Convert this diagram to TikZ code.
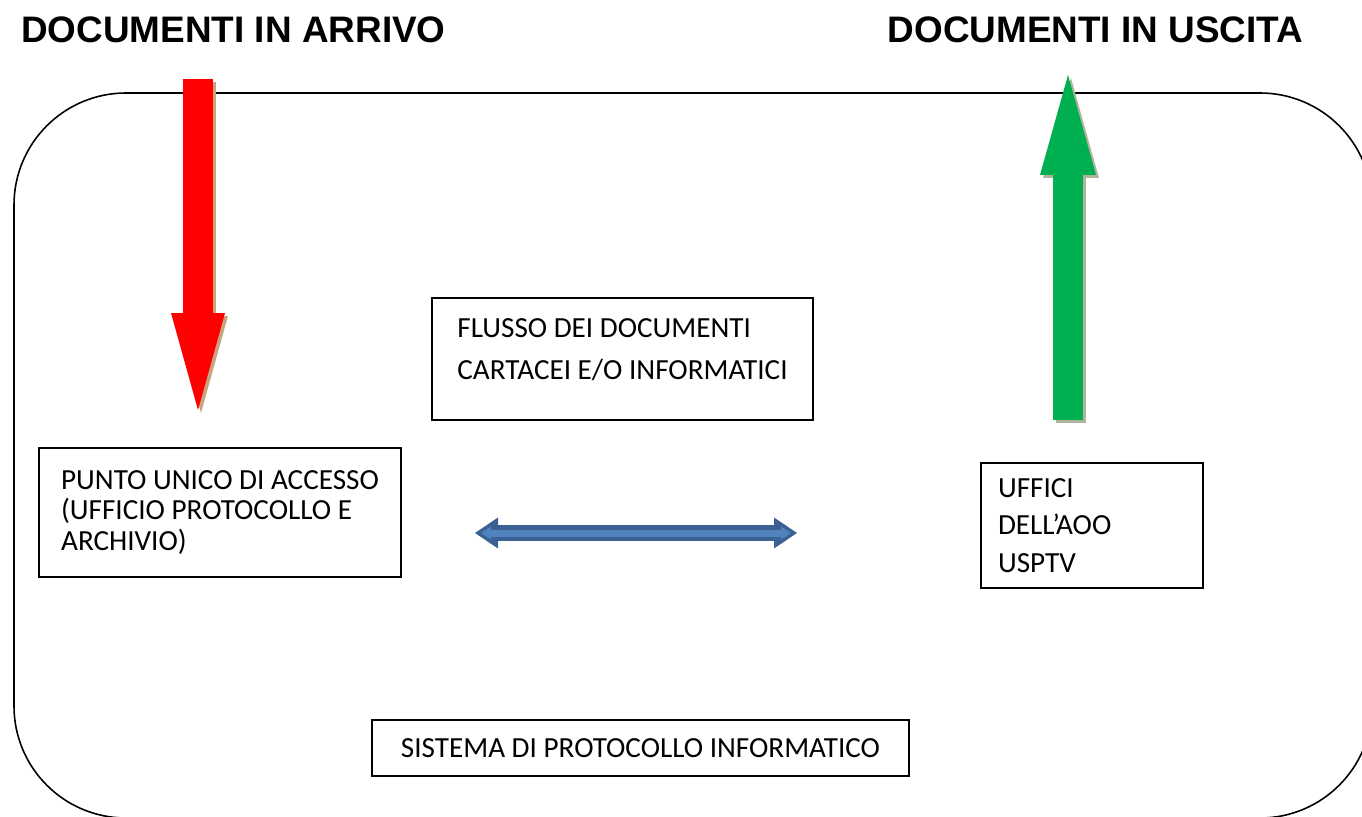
\documentclass[tikz,border=0pt]{standalone}
\usepackage{fontspec}
\setmainfont{Carlito}
\newfontfamily\headfont{Liberation Sans}
\usetikzlibrary{arrows.meta}
\definecolor{inred}{HTML}{FF0000}
\definecolor{outgreen}{HTML}{00B050}
\definecolor{flowblue}{HTML}{5082BE}
\definecolor{flowborder}{HTML}{3A6094}
\definecolor{redshadow}{HTML}{C9A37E}
\definecolor{greenshadow}{HTML}{B2B39B}
\tikzset{frame/.style = {
  draw=black,
  line width=0.9pt,
  rounded corners=2.24cm
  }}
\tikzset{box/.style = {
  % Rectangle:
  rectangle,
  draw=black, line width=0.8pt,
  inner xsep=0pt, inner ysep=0pt,
  % Text:
  align=left,
  font=\fontsize{16.6}{17.6}\selectfont
  }}
\tikzset{heading/.style = {
  inner sep=0pt,
  font=\headfont\bfseries\fontsize{21}{25}\selectfont
  }}
\tikzset{bigarrow/.style = {
  draw=#1,
  line width=0.6cm,
  line cap=butt
  }}
\tikzset{flowarrow/.style = {
  draw=#1,
  line cap=butt
  }}

\begin{document}
\begin{tikzpicture}[x=0.02cm, y=-0.02cm]
  \useasboundingbox (0,0) rectangle (1362,817);
  %
  % Frame
  %
  \draw [frame] (14,93) rectangle (1372,818);

  %
  % Specification of nodes
  %
  \node (arrivo) [heading] at (233.5,30) {DOCUMENTI IN ARRIVO};
  \node (uscita) [heading] at (1095.5,30) {DOCUMENTI IN USCITA};

  \node (flusso) [box, minimum width=7.62cm, minimum height=2.44cm,
    font=\fontsize{16.6}{23.8}\selectfont] at (622.5,359)
    {FLUSSO DEI DOCUMENTI\\CARTACEI E/O INFORMATICI\\[-12.5pt]\mbox{}};
  \node (accesso) [box, minimum width=7.24cm, minimum height=2.58cm] at (220,512.5)
    {PUNTO UNICO DI ACCESSO\\(UFFICIO PROTOCOLLO E\\ARCHIVIO)};
  \node (uffici) [box, minimum width=4.44cm, minimum height=2.5cm, text width=3.76cm,
    font=\fontsize{16.6}{21.5}\selectfont] at (1092,525.5)
    {UFFICI\\DELL’AOO\\USPTV};
  \node (sistema) [box, align=center, minimum width=10.74cm, minimum height=1.12cm] at (640.5,748)
    {SISTEMA DI PROTOCOLLO INFORMATICO};

  \coordinate (in-start) at (198,79);
  \coordinate (in-end) at (198,410);
  \coordinate (out-start) at (1068,420);
  \coordinate (out-end) at (1068,75);
  \coordinate (flow-left) at (475,533);
  \coordinate (flow-right) at (797,533);

  %
  % Specification of lines
  %
  \draw [bigarrow=redshadow, -{Triangle[length=1.94cm, width=1.08cm, line width=0pt]},
    transform canvas={shift={(3,3)}}] (in-start) -- (in-end);
  \draw [bigarrow=inred, -{Triangle[length=1.94cm, width=1.08cm, line width=0pt]}] (in-start) -- (in-end);

  \draw [bigarrow=greenshadow, -{Triangle[length=2cm, width=1.12cm, line width=0pt]},
    transform canvas={shift={(3,3)}}] (out-start) -- (out-end);
  \draw [bigarrow=outgreen, -{Triangle[length=2cm, width=1.12cm, line width=0pt]}] (out-start) -- (out-end);

  \draw [flowarrow=flowborder, line width=0.32cm,
    {Triangle[length=0.46cm, width=0.62cm, line width=0pt]}-{Triangle[length=0.46cm, width=0.62cm, line width=0pt]}]
    (flow-left) -- (flow-right);
  \draw [flowarrow=flowblue, line width=0.14cm, shorten <=0.12cm, shorten >=0.12cm,
    {Triangle[length=0.2cm, width=0.26cm, line width=0pt]}-{Triangle[length=0.2cm, width=0.26cm, line width=0pt]}]
    (flow-left) -- (flow-right);
\end{tikzpicture}
\end{document}
